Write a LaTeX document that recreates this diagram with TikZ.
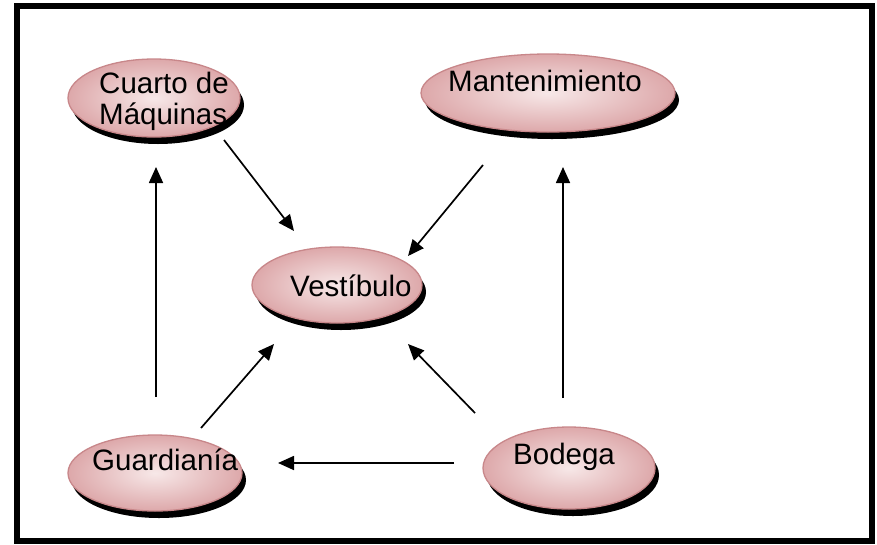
\documentclass[tikz,border=0pt]{standalone}
\usepackage{fontspec}
\setmainfont{Liberation Sans}
\usetikzlibrary{arrows.meta,shapes.geometric}
\definecolor{bubbleedge}{HTML}{C8878A}
\definecolor{bubbleout}{HTML}{DDA8AA}
\definecolor{bubblein}{HTML}{F7E8E8}
\tikzset{
  bubble/.style={ellipse, inner sep=0pt, draw=bubbleedge, line width=1.3pt,
    inner color=bubblein, outer color=bubbleout},
  bubbleshadow/.style={ellipse, inner sep=0pt, fill=black, draw=none},
  lbl/.style={anchor=base west, inner sep=0pt, font=\fontsize{29.5}{30}\selectfont, align=left},
  conn/.style={line width=1.7pt, -{Triangle[length=16pt,width=14pt]}}
}
\begin{document}
\begin{tikzpicture}[x=1pt,y=-1pt]
\useasboundingbox (0,0) rectangle (877,544);
\fill[white] (0,0) rectangle (877,544);
\draw[line width=6pt] (17,6) rectangle (872,541);
% shadows
\foreach \cx/\cy/\w/\h/\n in {154/98/172/78/a, 548/93/254/78/b, 337/285/170/76/c, 155/473/174/76/d, 569/468/172/82/e}{
  \node[bubbleshadow, minimum width=\w pt, minimum height=\h pt] (s\n) at (\cx+4,\cy+7) {};
}
% bubbles
\node[bubble, minimum width=172pt, minimum height=78pt] (cuarto) at (154,98) {};
\node[bubble, minimum width=254pt, minimum height=78pt] (mant) at (548,93) {};
\node[bubble, minimum width=170pt, minimum height=76pt] (vest) at (337,285) {};
\node[bubble, minimum width=174pt, minimum height=76pt] (guard) at (155,473) {};
\node[bubble, minimum width=172pt, minimum height=82pt] (bod) at (569,468) {};
% labels
\node[lbl] (tcuarto1) at (99,93) {Cuarto de};
\node[lbl] (tcuarto2) at (99,124) {Máquinas};
\node[lbl] (tmant) at (448,91) {Mantenimiento};
\node[lbl] (tvest) at (290,296) {Vestíbulo};
\node[lbl] (tguard) at (92,470) {Guardianía};
\node[lbl] (tbod) at (513,464) {Bodega};
% connector ends
\coordinate (p1) at (224,140); \coordinate (q1) at (294,231);
\coordinate (p2) at (483,165); \coordinate (q2) at (408,256);
\coordinate (p3) at (156,397); \coordinate (q3) at (156,167);
\coordinate (p4) at (201,428); \coordinate (q4) at (274,344);
\coordinate (p5) at (475,413); \coordinate (q5) at (408,344);
\coordinate (p6) at (454,463); \coordinate (q6) at (278,463);
\coordinate (p7) at (563,398); \coordinate (q7) at (563,167);
\foreach \i in {1,...,7}{ \draw[conn] (p\i) -- (q\i); }
\end{tikzpicture}
\end{document}
